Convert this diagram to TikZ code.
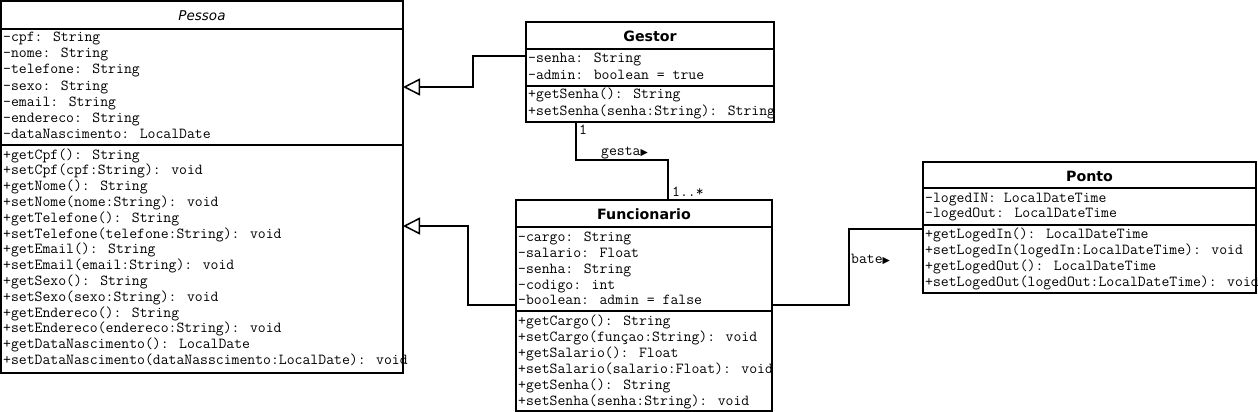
\documentclass[tikz,border=0pt]{standalone}
\usepackage{fontspec}
\setmainfont{DejaVu Sans}
\newfontfamily\titlefont{DejaVu Sans}
\newfontfamily\symfont{DejaVu Sans}
\usetikzlibrary{arrows.meta,calc}
\newcommand\umlrows[5]{\foreach \rowtxt [count=\i from 0] in {#5} {\node[rowtext] (#1-\i) at (#2,{#3+#4*\i}) {\rowtxt};}}
\tikzset{
  comp/.style={draw=black, fill=white, line width=1.5pt, inner sep=0pt, outer sep=0pt, anchor=north west},
  titletext/.style={font=\titlefont\bfseries\fontsize{14.2}{16}\selectfont, text height=12pt, text depth=0pt},
  rowtext/.style={anchor=base west, inner sep=0pt, font=\ttfamily\fontsize{15.3}{16}\selectfont},
  lbl/.style={anchor=base west, inner sep=0pt, font=\ttfamily\fontsize{15.3}{16}\selectfont},
  gen/.style={draw=black, line width=1.5pt, -{Triangle[open, length=17pt, width=17pt, line width=1.5pt]}},
  assoc/.style={draw=black, line width=1.5pt},
}
\newcommand\tri{{\symfont\fontsize{9.5}{9.5}\selectfont ▶}}
\begin{document}
\begin{tikzpicture}[x=1pt,y=-1pt]
\useasboundingbox[fill=white] (0,0) rectangle (1258,412);
% Pessoa
\node[comp, minimum width=402pt, minimum height=28pt, titletext, font=\titlefont\itshape\fontsize{13.5}{16}\selectfont, text height=11.5pt] (pessoa-title) at (1,1) {Pessoa};
\node[comp, minimum width=402pt, minimum height=116pt] (pessoa-attr) at (1,29) {};
\node[comp, minimum width=402pt, minimum height=228pt] (pessoa-meth) at (1,145) {};
% Gestor
\node[comp, minimum width=248pt, minimum height=27pt, titletext] (gestor-title) at (526,22) {Gestor};
\node[comp, minimum width=248pt, minimum height=37pt] (gestor-attr) at (526,49) {};
\node[comp, minimum width=248pt, minimum height=36pt] (gestor-meth) at (526,86) {};
% Funcionario
\node[comp, minimum width=256pt, minimum height=27pt, titletext] (func-title) at (516,200) {Funcionario};
\node[comp, minimum width=256pt, minimum height=84pt] (func-attr) at (516,227) {};
\node[comp, minimum width=256pt, minimum height=100pt] (func-meth) at (516,311) {};
% Ponto
\node[comp, minimum width=333pt, minimum height=26pt, titletext] (ponto-title) at (923,162) {Ponto};
\node[comp, minimum width=333pt, minimum height=37pt] (ponto-attr) at (923,188) {};
\node[comp, minimum width=333pt, minimum height=68pt] (ponto-meth) at (923,225) {};
% rows
\umlrows{pa}{3}{42}{16}{-cpf: String,-nome: String,-telefone: String,-sexo: String,-email: String,-endereco: String,-dataNascimento: LocalDate}
\umlrows{pm}{3}{159}{15.8}{+getCpf(): String,+setCpf(cpf:String): void,+getNome(): String,+setNome(nome:String): void,+getTelefone(): String,+setTelefone(telefone:String): void,+getEmail(): String,+setEmail(email:String): void,+getSexo(): String,+setSexo(sexo:String): void,+getEndereco(): String,+setEndereco(endereco:String): void,+getDataNascimento(): LocalDate,+setDataNascimento(dataNasscimento:LocalDate): void}
\umlrows{ga}{528}{62.5}{16.5}{-senha: String,-admin: boolean = true}
\umlrows{gm}{528}{99}{16.7}{+getSenha(): String,+setSenha(senha:String): String}
\umlrows{fa}{518}{241.7}{15.8}{-cargo: String,-salario: Float,-senha: String,-codigo: int,-boolean: admin = false}
\umlrows{fm}{518}{325.7}{15.86}{+getCargo(): String,+setCargo(funçao:String): void,+getSalario(): Float,+setSalario(salario:Float): void,+getSenha(): String,+setSenha(senha:String): void}
\umlrows{oa}{925}{202.3}{15.3}{-logedIN: LocalDateTime,-logedOut: LocalDateTime}
\umlrows{om}{925}{238.5}{15.9}{+getLogedIn(): LocalDateTime,+setLogedIn(logedIn:LocalDateTime): void,+getLogedOut(): LocalDateTime,+setLogedOut(logedOut:LocalDateTime): void}
% connectors
\draw[gen] ($(gestor-attr.north west)+(0,7)$) -- ++(-53,0) |- ($(pessoa-attr.north east)+(0,58)$);
\draw[gen] ($(func-attr.south west)+(0,-6)$) -- ++(-48,0) |- ($(pessoa-meth.north east)+(0,81)$);
\draw[assoc] ($(gestor-meth.south west)+(50,0)$) -- ++(0,38) -| ($(func-title.north west)+(152,0)$);
\draw[assoc] ($(func-attr.south east)+(0,-6)$) -- ++(77,0) |- ($(ponto-meth.north west)+(0,4)$);
% labels
\node[lbl] (l-one) at (579,134) {1};
\node[lbl] (l-gesta) at (601,155) {gesta\tri};
\node[lbl] (l-many) at (672,196) {1..*};
\node[lbl] (l-bate) at (851,263) {bate\tri};
\end{tikzpicture}
\end{document}
